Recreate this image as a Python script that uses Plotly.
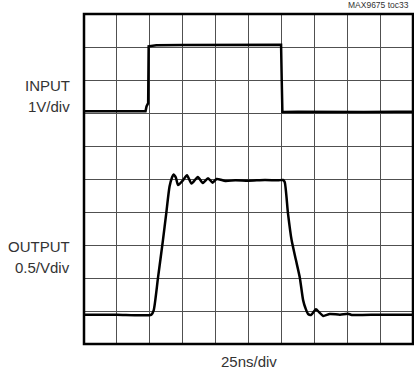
import plotly.graph_objects as go

# Time in divisions (25 ns/div), amplitude in screen divisions
in_t = [0, 1.0, 1.87, 1.90, 1.93, 1.95, 1.965, 2.2, 3.0, 4.0, 4.5, 5.0, 5.99, 6.01, 6.03, 6.5, 7.5, 8.5, 9.5, 10]
in_v = [7.05, 7.05, 7.05, 7.2, 7.3, 7.3, 9.02, 9.05, 9.06, 9.07, 9.07, 9.08, 9.07, 8.0, 7.03, 7.04, 7.03, 7.03, 7.04, 7.04]

out_t = [0, 1.0, 2.05, 2.12, 2.25, 2.40, 2.50, 2.60, 2.68, 2.72, 2.79, 2.86, 3.0, 3.13, 3.27,
         3.46, 3.61, 3.77, 3.91, 4.03, 4.3, 4.6, 5.0, 5.5, 5.9, 6.05, 6.10, 6.20, 6.31, 6.44,
         6.56, 6.66, 6.73, 6.81, 6.90, 7.05, 7.14, 7.27, 7.47, 7.78, 8.02, 8.14, 9.0, 10]
out_v = [0.89, 0.89, 0.89, 1.03, 2.01, 3.15, 3.96, 4.77, 5.06, 5.14, 5.05, 4.82, 4.95, 5.11, 4.86,
         5.06, 4.88, 5.02, 4.89, 5.0, 4.94, 4.96, 4.95, 4.97, 4.96, 4.97, 4.91, 3.96, 3.15, 2.55,
         2.01, 1.33, 1.09, 0.91, 0.88, 1.05, 0.97, 0.85, 0.91, 0.89, 0.92, 0.88, 0.89, 0.89]

FONT = "Liberation Sans, Arial, sans-serif"
TXT = "#333333"

fig = go.Figure()
fig.add_trace(go.Scatter(x=in_t, y=in_v, mode="lines",
                         line=dict(color="black", width=2.5), showlegend=False))
fig.add_trace(go.Scatter(x=out_t, y=out_v, mode="lines",
                         line=dict(color="black", width=2.5, shape="spline", smoothing=0.6),
                         showlegend=False))

axis = dict(range=[0, 10], dtick=1, tick0=0, showgrid=True, gridcolor="#505050",
            gridwidth=1, zeroline=False, showticklabels=False, ticks="",
            showline=False, fixedrange=True)
fig.update_layout(
    width=414, height=372,
    margin=dict(l=84, r=1, t=14, b=28),
    paper_bgcolor="white", plot_bgcolor="white",
    xaxis=axis, yaxis=axis,
)
fig.add_shape(type="rect", xref="paper", yref="paper", x0=0, y0=0, x1=1, y1=1,
              line=dict(color="black", width=2.5))

def label(text, x, y, size=15, xanchor="right"):
    fig.add_annotation(text=text, xref="paper", yref="paper", x=x, y=y,
                       xanchor=xanchor, yanchor="middle", showarrow=False,
                       font=dict(family=FONT, size=size, color=TXT))

# paper coords: x = (px-84)/329, y = (344-py)/330
label("INPUT", (72 - 84) / 329, (344 - 86) / 330)
label("1V/div", (72 - 84) / 329, (344 - 106) / 330)
label("OUTPUT", (72 - 84) / 329, (344 - 246) / 330)
label("0.5/Vdiv", (72 - 84) / 329, (344 - 267.5) / 330)
label("25ns/div", 0.5, (344 - 361.5) / 330, xanchor="center")
label("MAX9675 toc33", (411 - 84) / 329, (344 - 5) / 330, size=8.5)

fig.write_html("out.html", config={"displayModeBar": False},
               post_script="document.body.style.margin='0';")
